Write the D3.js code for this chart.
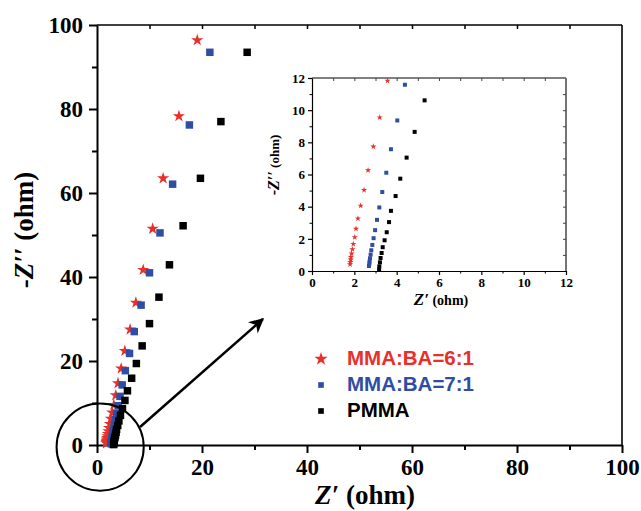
<!DOCTYPE html>
<html><head><meta charset="utf-8">
<script src="https://cdn.jsdelivr.net/npm/d3@7"></script>
<style>body{margin:0;background:#fff}svg{display:block}</style>
</head><body>
<svg id="c" width="641" height="511"></svg>
<script>
// ---- data (Z' , -Z'' in ohm) ----
const seriesNames = ["MMA:BA=6:1", "MMA:BA=7:1", "PMMA"];
const redX = [19.1, 15.6, 12.6, 10.6, 8.8, 7.4, 6.3, 5.3, 4.6, 4.0, 3.57, 3.20, 2.90, 2.65, 2.46, 2.30, 2.17, 2.08, 2.02, 1.95, 1.91, 1.87, 1.84, 1.83, 1.81, 1.80];
const redY = [96.4, 78.3, 63.5, 51.5, 41.7, 33.9, 27.5, 22.4, 18.2, 14.7, 11.83, 9.55, 7.74, 6.26, 5.03, 4.06, 3.27, 2.62, 2.10, 1.68, 1.35, 1.08, 0.87, 0.71, 0.56, 0.42];
const blueX = [21.5, 17.6, 14.4, 12.0, 10.0, 8.4, 7.1, 6.2, 5.4, 4.8, 4.39, 4.03, 3.73, 3.51, 3.32, 3.18, 3.07, 2.98, 2.91, 2.85, 2.80, 2.77, 2.74, 2.72, 2.71, 2.69];
const blueY = [93.5, 76.2, 62.1, 50.5, 41.0, 33.3, 27.0, 21.8, 17.7, 14.3, 11.58, 9.36, 7.57, 6.11, 4.91, 3.95, 3.18, 2.54, 2.04, 1.62, 1.29, 1.02, 0.79, 0.60, 0.46, 0.31];
const blackX = [28.6, 23.6, 19.7, 16.4, 13.8, 11.8, 10.0, 8.6, 7.5, 6.6, 5.8, 5.32, 4.85, 4.47, 4.17, 3.95, 3.73, 3.64, 3.53, 3.43, 3.34, 3.29, 3.24, 3.21, 3.18, 3.17];
const blackY = [93.5, 77.0, 63.5, 52.2, 42.9, 35.2, 28.9, 23.6, 19.4, 15.9, 12.9, 10.61, 8.65, 7.05, 5.74, 4.66, 3.74, 3.04, 2.41, 1.91, 1.48, 1.12, 0.81, 0.54, 0.29, 0.10];
const mainTicks = [0, 20, 40, 60, 80, 100];
const mainMinor = [10, 30, 50, 70, 90];
const insetTicks = [0, 2, 4, 6, 8, 10, 12];
const insetMinor = [1, 3, 5, 7, 9, 11];
// annotation (data units of main chart)
const circleCenter = [0.6, -0.5];
const circleRadius = 8.3;
const arrowFrom = [8.2, 4.3];
const arrowTo = [31.6, 30.0];

const colors = ["#e8302a", "#2f4ea3", "#000000"];
const series = [
  {name: seriesNames[0], x: redX, y: redY, color: colors[0], sym: d3.symbolStar},
  {name: seriesNames[1], x: blueX, y: blueY, color: colors[1], sym: d3.symbolSquare},
  {name: seriesNames[2], x: blackX, y: blackY, color: colors[2], sym: d3.symbolSquare}
];

const svg = d3.select("#c");
const serif = "'Liberation Serif','Times New Roman',serif";
const sans = "'Liberation Sans',Arial,sans-serif";

// ---- main chart ----
const x = d3.scaleLinear().domain([0, 100]).range([97, 622]);
const y = d3.scaleLinear().domain([0, 100]).range([445, 25]);

// frame
svg.append("line").attr("x1", x(0)).attr("x2", x(100)).attr("y1", y(100)).attr("y2", y(100)).attr("stroke", "#000").attr("stroke-width", 1.6);
svg.append("line").attr("x1", x(100)).attr("x2", x(100)).attr("y1", y(100)).attr("y2", y(0)).attr("stroke", "#000").attr("stroke-width", 1.6);

function styleAxis(g, w) {
  g.select(".domain").attr("stroke-width", w);
  g.selectAll(".tick line").attr("stroke-width", w);
}
const gx = svg.append("g").attr("transform", `translate(0,${y(0)})`)
  .call(d3.axisBottom(x).tickValues(mainTicks).tickSize(8).tickSizeOuter(0).tickPadding(6));
gx.selectAll("text").attr("font-family", serif).attr("font-weight", "bold").attr("font-size", 23).attr("fill", "#000");
styleAxis(gx, 2);
const gxm = svg.append("g").attr("transform", `translate(0,${y(0)})`)
  .call(d3.axisBottom(x).tickValues(mainMinor).tickSize(5).tickFormat(""));
gxm.select(".domain").remove(); gxm.selectAll(".tick line").attr("stroke-width", 2);

const gy = svg.append("g").attr("transform", `translate(${x(0)},0)`)
  .call(d3.axisLeft(y).tickValues(mainTicks).tickSize(8).tickSizeOuter(0).tickPadding(6));
gy.selectAll("text").attr("font-family", serif).attr("font-weight", "bold").attr("font-size", 23).attr("fill", "#000");
styleAxis(gy, 2);
const gym = svg.append("g").attr("transform", `translate(${x(0)},0)`)
  .call(d3.axisLeft(y).tickValues(mainMinor).tickSize(5).tickFormat(""));
gym.select(".domain").remove(); gym.selectAll(".tick line").attr("stroke-width", 2);

// top inward ticks
svg.append("g").attr("transform", `translate(0,${y(100)})`)
  .call(d3.axisBottom(x).tickValues(mainMinor.concat(mainTicks.slice(1, 5))).tickSize(4).tickFormat(""))
  .call(g => g.select(".domain").remove()).selectAll(".tick line").attr("stroke-width", 1.5);

// points (main)
series.forEach(s => {
  const pts = s.x.map((v, i) => [v, s.y[i]]);
  svg.append("g").selectAll("path").data(pts).join("path")
    .attr("transform", d => `translate(${x(d[0])},${y(d[1])})`)
    .attr("d", d3.symbol().type(s.sym).size(s.sym === d3.symbolStar ? 46 : 56))
    .attr("fill", s.color);
});

// axis titles
const yt = svg.append("text").attr("transform", `translate(33,${230}) rotate(-90)`)
  .attr("text-anchor", "middle").attr("font-family", serif).attr("font-weight", "bold").attr("font-size", 27);
yt.append("tspan").text("-");
yt.append("tspan").attr("font-style", "italic").text("Z\u2032\u2032");
yt.append("tspan").text(" (ohm)");

const xt = svg.append("text").attr("x", 365).attr("y", 504)
  .attr("text-anchor", "middle").attr("font-family", serif).attr("font-weight", "bold").attr("font-size", 27);
xt.append("tspan").attr("font-style", "italic").text("Z\u2032");
xt.append("tspan").text(" (ohm)");

// circle + arrow annotation
const pxPerUnitX = x(1) - x(0);
svg.append("circle").attr("cx", x(circleCenter[0])).attr("cy", y(circleCenter[1]))
  .attr("r", circleRadius * pxPerUnitX).attr("fill", "none").attr("stroke", "#000").attr("stroke-width", 2);
svg.append("defs").append("marker").attr("id", "ah").attr("viewBox", "0 0 10 10")
  .attr("refX", 9).attr("refY", 5).attr("markerWidth", 6.5).attr("markerHeight", 6)
  .attr("markerUnits", "strokeWidth").attr("orient", "auto")
  .append("path").attr("d", "M0,0 L10,5 L0,10 L3,5 Z").attr("fill", "#000");
svg.append("line").attr("x1", x(arrowFrom[0])).attr("y1", y(arrowFrom[1]))
  .attr("x2", x(arrowTo[0])).attr("y2", y(arrowTo[1]))
  .attr("stroke", "#000").attr("stroke-width", 2.5).attr("marker-end", "url(#ah)");

// legend
const leg = svg.append("g");
series.forEach((s, i) => {
  const yy = 359 + i * 26;
  leg.append("path").attr("transform", `translate(321,${yy})`)
    .attr("d", d3.symbol().type(s.sym).size(s.sym === d3.symbolStar ? 55 : 32)).attr("fill", s.color);
  leg.append("text").attr("x", 347).attr("y", yy + 6).attr("font-family", sans).attr("font-weight", "bold")
    .attr("font-size", 20.5).attr("fill", s.color).text(s.name);
});

// ---- inset ----
const ix = d3.scaleLinear().domain([0, 12]).range([312, 566]);
const iy = d3.scaleLinear().domain([0, 12]).range([271, 78]);
const ins = svg.append("g");
ins.append("rect").attr("x", ix(0)).attr("y", iy(12)).attr("width", ix(12) - ix(0)).attr("height", iy(0) - iy(12)).attr("fill", "#fff");
ins.append("line").attr("x1", ix(0)).attr("x2", ix(12)).attr("y1", iy(12)).attr("y2", iy(12)).attr("stroke", "#000").attr("stroke-width", 1);
ins.append("line").attr("x1", ix(12)).attr("x2", ix(12)).attr("y1", iy(12)).attr("y2", iy(0)).attr("stroke", "#666").attr("stroke-width", 1.8);
// inner ticks top / right
ins.append("g").attr("transform", `translate(0,${iy(12)})`)
  .call(d3.axisBottom(ix).tickValues(d3.range(1, 12)).tickSize(3).tickFormat(""))
  .call(g => g.select(".domain").remove()).selectAll(".tick line").attr("stroke", "#444");
ins.append("g").attr("transform", `translate(${ix(12)},0)`)
  .call(d3.axisLeft(iy).tickValues(d3.range(1, 12)).tickSize(3).tickFormat(""))
  .call(g => g.select(".domain").remove()).selectAll(".tick line").attr("stroke", "#444");

const igx = ins.append("g").attr("transform", `translate(0,${iy(0)})`)
  .call(d3.axisBottom(ix).tickValues(insetTicks).tickSize(4).tickSizeOuter(0).tickPadding(3));
igx.selectAll("text").attr("font-family", serif).attr("font-weight", "bold").attr("font-size", 13).attr("fill", "#000");
styleAxis(igx, 1.2);
ins.append("g").attr("transform", `translate(0,${iy(0)})`)
  .call(d3.axisBottom(ix).tickValues(insetMinor).tickSize(2.5).tickFormat(""))
  .call(g => g.select(".domain").remove());
const igy = ins.append("g").attr("transform", `translate(${ix(0)},0)`)
  .call(d3.axisLeft(iy).tickValues(insetTicks).tickSize(4).tickSizeOuter(0).tickPadding(3));
igy.selectAll("text").attr("font-family", serif).attr("font-weight", "bold").attr("font-size", 13).attr("fill", "#000");
styleAxis(igy, 1.2);
ins.append("g").attr("transform", `translate(${ix(0)},0)`)
  .call(d3.axisLeft(iy).tickValues(insetMinor).tickSize(2.5).tickFormat(""))
  .call(g => g.select(".domain").remove());

series.forEach(s => {
  const pts = s.x.map((v, i) => [v, s.y[i]]).filter(d => d[0] <= 12 && d[1] <= 12);
  ins.append("g").selectAll("path").data(pts).join("path")
    .attr("transform", d => `translate(${ix(d[0])},${iy(d[1])})`)
    .attr("d", d3.symbol().type(s.sym).size(s.sym === d3.symbolStar ? 12 : 16))
    .attr("fill", s.color);
});

const iyt = ins.append("text").attr("transform", `translate(279,165) rotate(-90)`)
  .attr("text-anchor", "middle").attr("font-family", serif).attr("font-weight", "bold");
iyt.append("tspan").attr("font-size", 16).text("-");
iyt.append("tspan").attr("font-size", 16).attr("font-style", "italic").text("Z\u2032\u2032");
iyt.append("tspan").attr("font-size", 13).text(" (ohm)");

const ixt = ins.append("text").attr("x", 441).attr("y", 305)
  .attr("text-anchor", "middle").attr("font-family", serif).attr("font-weight", "bold");
ixt.append("tspan").attr("font-size", 17).attr("font-style", "italic").text("Z\u2032");
ixt.append("tspan").attr("font-size", 14).text(" (ohm)");
</script>
</body></html>
